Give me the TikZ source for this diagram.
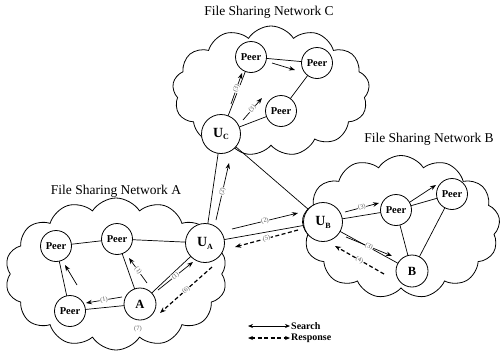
\documentclass[tikz,border=0pt]{standalone}
\usepackage{fontspec}
\setmainfont{Liberation Serif}
\usetikzlibrary{shapes.symbols,arrows.meta}
\newcommand{\usub}[1]{U\raisebox{-0.45ex}{\fontsize{8}{8}\selectfont\bfseries #1}}
\begin{document}
\begin{tikzpicture}[x=1pt,y=-1pt,
  cloudshape/.style={cloud, draw, line width=0.8pt, cloud puffs=#1, cloud puff arc=115, inner sep=0pt},
  peer/.style={circle, draw, line width=0.8pt, fill=white, minimum size=31pt, inner sep=0pt, font=\fontsize{10.5}{10.5}\selectfont\bfseries},
  unode/.style={circle, draw, line width=0.8pt, fill=white, minimum size=39pt, inner sep=0pt, font=\fontsize{14}{14}\selectfont\bfseries},
  hnode/.style={circle, draw, line width=0.8pt, fill=white, minimum size=32pt, inner sep=0pt, font=\fontsize{12.5}{12.5}\selectfont\bfseries},
  link/.style={line width=0.7pt},
  flow/.style={line width=0.7pt, -{Stealth[length=6pt,width=4.5pt]}},
  resp/.style={line width=1.2pt, dash pattern=on 4pt off 2.5pt, -{Stealth[length=6pt,width=4.5pt]}},
  flowlbl/.style={sloped, fill=white, inner sep=0.5pt, text=black!65, font=\fontsize{6.5}{6.5}\selectfont},
  title/.style={font=\fontsize{13.5}{13.5}\selectfont},
  legend/.style={font=\fontsize{10}{10}\selectfont\bfseries, anchor=west, inner sep=1pt}
]
\useasboundingbox (0,0) rectangle (501,354);

% clouds
\node[cloudshape=14, minimum width=222pt, minimum height=152pt] (cloudA) at (116,274) {};
\node[cloudshape=13, minimum width=198pt, minimum height=143pt] (cloudB) at (401,227) {};
\node[cloudshape=13, minimum width=197pt, minimum height=130pt] (cloudC) at (271,91) {};

% titles
\node[title] (tC) at (269,12) {File Sharing Network C};
\node[title] (tB) at (429,139) {File Sharing Network B};
\node[title] (tA) at (116,191) {File Sharing Network A};

% node positions
\coordinate (pC1) at (251,57);
\coordinate (pC2) at (317,63);
\coordinate (pC3) at (281,111);
\coordinate (pUC) at (221,134);
\coordinate (pUA) at (205,243);
\coordinate (pA1) at (117,239);
\coordinate (pA0) at (56,246);
\coordinate (pA2) at (70,311);
\coordinate (pA) at (140,304);
\coordinate (pUB) at (323,222);
\coordinate (pB1) at (396,210);
\coordinate (pB) at (412,271);
\coordinate (pB2) at (452,194);

% links
\draw[link] (pA0) -- (pA1);
\draw[link] (pA1) -- (pUA);
\draw[link] (pA0) -- (pA2);
\draw[link] (pA2) -- (pA);
\draw[link] (pA) -- (pA1);
\draw[link] (pA) -- (pUA);
\draw[link] (pUA) -- (pUC);
\draw[link] (pUA) -- (pUB);
\draw[link] (pUC) -- (pUB);
\draw[link] (pUC) -- (pC1);
\draw[link] (pUC) -- (pC3);
\draw[link] (pC1) -- (pC2);
\draw[link] (pC3) -- (pC2);
\draw[link] (pUB) -- (pB1);
\draw[link] (pUB) -- (pB);
\draw[link] (pB1) -- (pB2);
\draw[link] (pB1) -- (pB);
\draw[link] (pB) -- (pB2);

% nodes
\node[peer] (C1) at (pC1) {Peer};
\node[peer] (C2) at (pC2) {Peer};
\node[peer] (C3) at (pC3) {Peer};
\node[unode] (UC) at (pUC) {\usub{C}};
\node[unode] (UA) at (pUA) {\usub{A}};
\node[peer] (A1) at (pA1) {Peer};
\node[peer] (A0) at (pA0) {Peer};
\node[peer] (A2) at (pA2) {Peer};
\node[hnode] (A) at (pA) {A};
\node[unode] (UB) at (pUB) {\usub{B}};
\node[peer] (B1) at (pB1) {Peer};
\node[hnode] (B) at (pB) {B};
\node[peer] (B2) at (pB2) {Peer};

\node[text=black!65, font=\fontsize{6.5}{6.5}\selectfont] (seven) at (138,329) {(7)};

% flow arrows
\coordinate (f1s) at (122,297); \coordinate (f1e) at (86,303);
\coordinate (f2s) at (147,283); \coordinate (f2e) at (129,258);
\coordinate (f3s) at (158,290); \coordinate (f3e) at (193,262);
\coordinate (f4s) at (212,267); \coordinate (f4e) at (160,313);
\coordinate (f5s) at (77,285);  \coordinate (f5e) at (65,265);
\coordinate (f6s) at (216,220); \coordinate (f6e) at (229,163);
\coordinate (f7s) at (232,229); \coordinate (f7e) at (298,213);
\coordinate (f8s) at (298,230); \coordinate (f8e) at (235,247);
\coordinate (f9s) at (345,212); \coordinate (f9e) at (379,203);
\coordinate (f10s) at (346,237); \coordinate (f10e) at (392,256);
\coordinate (f11s) at (384,274); \coordinate (f11e) at (335,246);
\coordinate (f12s) at (410,202); \coordinate (f12e) at (436,185);
\coordinate (f13s) at (231,104); \coordinate (f13e) at (242,73);
\coordinate (f14s) at (243,120); \coordinate (f14e) at (262,98);
\coordinate (f15s) at (272,63); \coordinate (f15e) at (295,70);

\draw[flow] (f1s) -- node[flowlbl]{(1)} (f1e);
\draw[flow] (f2s) -- node[flowlbl]{(1)} (f2e);
\draw[flow] (f3s) -- node[flowlbl]{(1)} (f3e);
\draw[resp] (f4s) -- node[flowlbl]{(6)} (f4e);
\draw[flow] (f5s) -- (f5e);
\draw[flow] (f6s) -- node[flowlbl]{(2)} (f6e);
\draw[flow] (f7s) -- node[flowlbl]{(2)} (f7e);
\draw[resp] (f8s) -- node[flowlbl]{(5)} (f8e);
\draw[flow] (f9s) -- node[flowlbl]{(3)} (f9e);
\draw[flow] (f10s) -- node[flowlbl]{(3)} (f10e);
\draw[resp] (f11s) -- node[flowlbl]{(4)} (f11e);
\draw[flow] (f12s) -- (f12e);
\draw[flow] (f13s) -- node[flowlbl]{(3)} (f13e);
\draw[flow] (f14s) -- node[flowlbl]{(3)} (f14e);
\draw[flow] (f15s) -- (f15e);

% legend
\node[legend] (search) at (290,326) {Search};
\node[legend] (response) at (290,338) {Response};
\coordinate (ls) at (248,326);
\coordinate (lr) at (248,338);
\draw[line width=0.7pt, {Stealth[length=5pt,width=4pt]}-{Stealth[length=5pt,width=4pt]}] (ls) -- (search.west);
\draw[line width=1.2pt, dash pattern=on 4pt off 2.5pt, {Stealth[length=5pt,width=4pt]}-{Stealth[length=5pt,width=4pt]}] (lr) -- (response.west);
\end{tikzpicture}
\end{document}
